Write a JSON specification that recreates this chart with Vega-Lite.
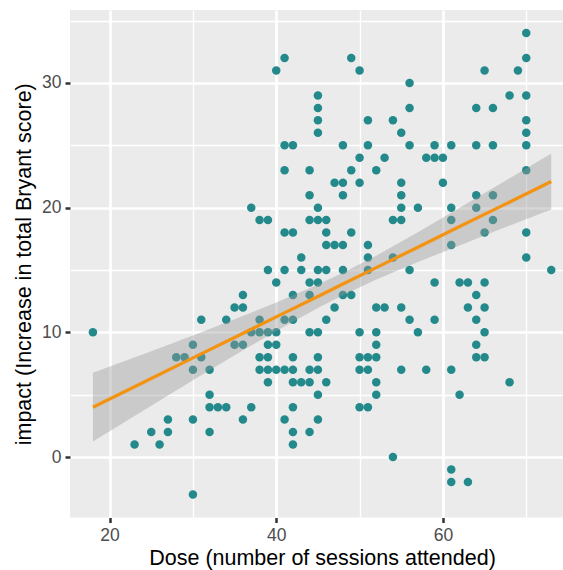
{
  "$schema": "https://vega.github.io/schema/vega-lite/v6.json",
  "width": 493,
  "height": 507.5,
  "autosize": "none",
  "padding": {"left": 70, "top": 10, "right": 0, "bottom": 52.5},
  "background": "white",
  "config": {
    "view": {"fill": "#EBEBEB", "stroke": null},
    "font": "Liberation Sans",
    "axis": {
      "domain": false,
      "gridColor": "white",
      "tickColor": "#333333",
      "tickSize": 5,
      "tickWidth": 2.5,
      "labelColor": "#4D4D4D",
      "labelFontSize": 17.5,
      "titleFontSize": 21.5,
      "titleFontWeight": "normal",
      "titleColor": "black"
    }
  },
  "datasets": {
    "pts": [
      {"dose": 70, "impact": 34},
      {"dose": 41, "impact": 32}, {"dose": 49, "impact": 32}, {"dose": 70, "impact": 32},
      {"dose": 40, "impact": 31}, {"dose": 50, "impact": 31}, {"dose": 65, "impact": 31}, {"dose": 69, "impact": 31},
      {"dose": 56, "impact": 30},
      {"dose": 45, "impact": 29}, {"dose": 68, "impact": 29}, {"dose": 70, "impact": 29},
      {"dose": 45, "impact": 28}, {"dose": 56, "impact": 28}, {"dose": 64, "impact": 28}, {"dose": 66, "impact": 28},
      {"dose": 45, "impact": 27}, {"dose": 51, "impact": 27}, {"dose": 54, "impact": 27}, {"dose": 70, "impact": 27},
      {"dose": 45, "impact": 26}, {"dose": 55, "impact": 26}, {"dose": 70, "impact": 26},
      {"dose": 41, "impact": 25}, {"dose": 42, "impact": 25}, {"dose": 48, "impact": 25}, {"dose": 51, "impact": 25}, {"dose": 56, "impact": 25}, {"dose": 59, "impact": 25}, {"dose": 61, "impact": 25}, {"dose": 64, "impact": 25}, {"dose": 66, "impact": 25}, {"dose": 70, "impact": 25},
      {"dose": 50, "impact": 24}, {"dose": 53, "impact": 24}, {"dose": 58, "impact": 24}, {"dose": 59, "impact": 24}, {"dose": 60, "impact": 24},
      {"dose": 41, "impact": 23}, {"dose": 44, "impact": 23}, {"dose": 49, "impact": 23}, {"dose": 52, "impact": 23}, {"dose": 70, "impact": 23},
      {"dose": 47, "impact": 22}, {"dose": 48, "impact": 22}, {"dose": 50, "impact": 22}, {"dose": 55, "impact": 22}, {"dose": 60, "impact": 22},
      {"dose": 44, "impact": 21}, {"dose": 48, "impact": 21}, {"dose": 55, "impact": 21}, {"dose": 64, "impact": 21}, {"dose": 66, "impact": 21},
      {"dose": 37, "impact": 20}, {"dose": 45, "impact": 20}, {"dose": 55, "impact": 20}, {"dose": 57, "impact": 20}, {"dose": 61, "impact": 20}, {"dose": 64, "impact": 20},
      {"dose": 38, "impact": 19}, {"dose": 39, "impact": 19}, {"dose": 44, "impact": 19}, {"dose": 45, "impact": 19}, {"dose": 46, "impact": 19}, {"dose": 54, "impact": 19}, {"dose": 55, "impact": 19}, {"dose": 61, "impact": 19}, {"dose": 66, "impact": 19},
      {"dose": 41, "impact": 18}, {"dose": 42, "impact": 18}, {"dose": 46, "impact": 18}, {"dose": 49, "impact": 18}, {"dose": 65, "impact": 18}, {"dose": 70, "impact": 18},
      {"dose": 46, "impact": 17}, {"dose": 47, "impact": 17}, {"dose": 48, "impact": 17}, {"dose": 51, "impact": 17}, {"dose": 61, "impact": 17},
      {"dose": 43, "impact": 16}, {"dose": 51, "impact": 16}, {"dose": 54, "impact": 16}, {"dose": 70, "impact": 16},
      {"dose": 39, "impact": 15}, {"dose": 41, "impact": 15}, {"dose": 43, "impact": 15}, {"dose": 45, "impact": 15}, {"dose": 46, "impact": 15}, {"dose": 48, "impact": 15}, {"dose": 51, "impact": 15}, {"dose": 56, "impact": 15}, {"dose": 73, "impact": 15},
      {"dose": 40, "impact": 14}, {"dose": 44, "impact": 14}, {"dose": 45, "impact": 14}, {"dose": 59, "impact": 14}, {"dose": 62, "impact": 14}, {"dose": 63, "impact": 14}, {"dose": 65, "impact": 14},
      {"dose": 36, "impact": 13}, {"dose": 42, "impact": 13}, {"dose": 44, "impact": 13}, {"dose": 48, "impact": 13}, {"dose": 49, "impact": 13}, {"dose": 64, "impact": 13},
      {"dose": 35, "impact": 12}, {"dose": 36, "impact": 12}, {"dose": 47, "impact": 12}, {"dose": 52, "impact": 12}, {"dose": 53, "impact": 12}, {"dose": 55, "impact": 12}, {"dose": 63, "impact": 12}, {"dose": 65, "impact": 12},
      {"dose": 31, "impact": 11}, {"dose": 34, "impact": 11}, {"dose": 38, "impact": 11}, {"dose": 41, "impact": 11}, {"dose": 42, "impact": 11}, {"dose": 46, "impact": 11}, {"dose": 56, "impact": 11}, {"dose": 59, "impact": 11}, {"dose": 64, "impact": 11},
      {"dose": 18, "impact": 10}, {"dose": 37, "impact": 10}, {"dose": 38, "impact": 10}, {"dose": 39, "impact": 10}, {"dose": 40, "impact": 10}, {"dose": 44, "impact": 10}, {"dose": 45, "impact": 10}, {"dose": 50, "impact": 10}, {"dose": 52, "impact": 10}, {"dose": 57, "impact": 10}, {"dose": 65, "impact": 10},
      {"dose": 30, "impact": 9}, {"dose": 35, "impact": 9}, {"dose": 36, "impact": 9}, {"dose": 39, "impact": 9}, {"dose": 40, "impact": 9}, {"dose": 52, "impact": 9}, {"dose": 64, "impact": 9},
      {"dose": 28, "impact": 8}, {"dose": 29, "impact": 8}, {"dose": 31, "impact": 8}, {"dose": 38, "impact": 8}, {"dose": 39, "impact": 8}, {"dose": 42, "impact": 8}, {"dose": 45, "impact": 8}, {"dose": 50, "impact": 8}, {"dose": 51, "impact": 8}, {"dose": 52, "impact": 8}, {"dose": 64, "impact": 8}, {"dose": 65, "impact": 8},
      {"dose": 30, "impact": 7}, {"dose": 32, "impact": 7}, {"dose": 38, "impact": 7}, {"dose": 39, "impact": 7}, {"dose": 40, "impact": 7}, {"dose": 41, "impact": 7}, {"dose": 42, "impact": 7}, {"dose": 44, "impact": 7}, {"dose": 45, "impact": 7}, {"dose": 50, "impact": 7}, {"dose": 51, "impact": 7}, {"dose": 55, "impact": 7}, {"dose": 58, "impact": 7}, {"dose": 61, "impact": 7},
      {"dose": 39, "impact": 6}, {"dose": 42, "impact": 6}, {"dose": 43, "impact": 6}, {"dose": 44, "impact": 6}, {"dose": 46, "impact": 6}, {"dose": 52, "impact": 6}, {"dose": 68, "impact": 6},
      {"dose": 32, "impact": 5}, {"dose": 45, "impact": 5}, {"dose": 52, "impact": 5}, {"dose": 62, "impact": 5},
      {"dose": 32, "impact": 4}, {"dose": 33, "impact": 4}, {"dose": 34, "impact": 4}, {"dose": 37, "impact": 4}, {"dose": 42, "impact": 4}, {"dose": 50, "impact": 4}, {"dose": 51, "impact": 4},
      {"dose": 27, "impact": 3}, {"dose": 30, "impact": 3}, {"dose": 36, "impact": 3}, {"dose": 41, "impact": 3}, {"dose": 45, "impact": 3},
      {"dose": 25, "impact": 2}, {"dose": 27, "impact": 2}, {"dose": 32, "impact": 2}, {"dose": 42, "impact": 2}, {"dose": 44, "impact": 2},
      {"dose": 23, "impact": 1}, {"dose": 26, "impact": 1}, {"dose": 42, "impact": 1},
      {"dose": 54, "impact": 0},
      {"dose": 61, "impact": -1},
      {"dose": 61, "impact": -2}, {"dose": 63, "impact": -2},
      {"dose": 30, "impact": -3}
    ],
    "band": [
      {"dose": 18, "lo": 1.25, "fit": 4.0, "hi": 6.75},
      {"dose": 25, "lo": 4.11, "fit": 6.3, "hi": 8.49},
      {"dose": 30, "lo": 6.15, "fit": 7.95, "hi": 9.75},
      {"dose": 35, "lo": 8.16, "fit": 9.59, "hi": 11.04},
      {"dose": 40, "lo": 10.11, "fit": 11.24, "hi": 12.39},
      {"dose": 45, "lo": 11.95, "fit": 12.88, "hi": 13.83},
      {"dose": 48, "lo": 12.98, "fit": 13.87, "hi": 14.78},
      {"dose": 52, "lo": 14.23, "fit": 15.19, "hi": 16.15},
      {"dose": 57, "lo": 15.64, "fit": 16.83, "hi": 18.02},
      {"dose": 62, "lo": 16.97, "fit": 18.48, "hi": 19.99},
      {"dose": 67, "lo": 18.3, "fit": 20.12, "hi": 21.95},
      {"dose": 73, "lo": 19.85, "fit": 22.1, "hi": 24.35}
    ]
  },
  "layer": [
    {
      "data": {"name": "pts"},
      "mark": {"type": "circle", "size": 72, "opacity": 1, "color": "#23898B"},
      "encoding": {
        "x": {
          "field": "dose", "type": "quantitative",
          "title": "Dose (number of sessions attended)",
          "scale": {"domain": [15.25, 74.41], "nice": false, "zero": false},
          "axis": {
            "values": [20, 30, 40, 50, 60, 70],
            "labelExpr": "datum.value % 20 === 0 ? datum.label : ''",
            "gridWidth": {"condition": {"test": "datum.value % 20 === 0", "value": 2.7}, "value": 1.3},
            "tickColor": {"condition": {"test": "datum.value % 20 === 0", "value": "#333333"}, "value": "transparent"},
            "labelBaseline": "alphabetic",
            "labelPadding": 18,
            "titleX": 252,
            "titleY": 47,
            "titleBaseline": "alphabetic"
          }
        },
        "y": {
          "field": "impact", "type": "quantitative",
          "title": "impact (Increase in total Bryant score)",
          "scale": {"domain": [-4.85, 35.85], "nice": false, "zero": false},
          "axis": {
            "values": [0, 5, 10, 15, 20, 25, 30, 35],
            "labelExpr": "datum.value % 10 === 0 ? datum.label : ''",
            "gridWidth": {"condition": {"test": "datum.value % 10 === 0", "value": 2.7}, "value": 1.3},
            "tickColor": {"condition": {"test": "datum.value % 10 === 0", "value": "#333333"}, "value": "transparent"},
            "labelPadding": 4,
            "titleX": -46,
            "titleY": 253.75,
            "titleAngle": -90,
            "titleAlign": "center",
            "titleBaseline": "middle"
          }
        }
      }
    },
    {
      "data": {"name": "band"},
      "mark": {"type": "area", "color": "#999999", "opacity": 0.4},
      "encoding": {
        "x": {"field": "dose", "type": "quantitative", "title": "Dose (number of sessions attended)"},
        "y": {"field": "lo", "type": "quantitative", "title": "impact (Increase in total Bryant score)"},
        "y2": {"field": "hi"}
      }
    },
    {
      "data": {"name": "band"},
      "mark": {"type": "line", "color": "#F39314", "strokeWidth": 3.3},
      "encoding": {
        "x": {"field": "dose", "type": "quantitative", "title": "Dose (number of sessions attended)"},
        "y": {"field": "fit", "type": "quantitative", "title": "impact (Increase in total Bryant score)"}
      }
    }
  ]
}
